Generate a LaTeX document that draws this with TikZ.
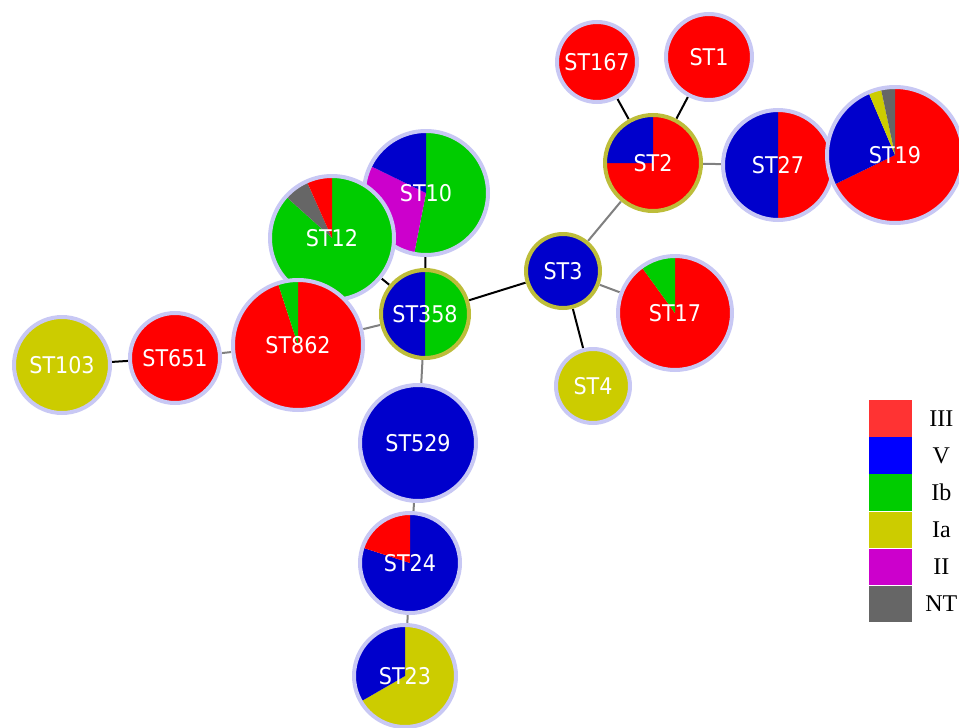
\documentclass[tikz,border=0pt]{standalone}
\usepackage{fontspec}
\setmainfont{Liberation Serif}
\newfontfamily\lblfont{DejaVu Sans Condensed}
\pgfdeclarelayer{edges}
\pgfsetlayers{edges,main}
\definecolor{pred}{HTML}{FF0000}
\definecolor{pblue}{HTML}{0000CC}
\definecolor{pgreen}{HTML}{00CC00}
\definecolor{pyellow}{HTML}{CCCC00}
\definecolor{pmag}{HTML}{CC00CC}
\definecolor{pgray}{HTML}{666666}
\definecolor{lred}{HTML}{FF3333}
\definecolor{lblue}{HTML}{0000FF}
\definecolor{lav}{HTML}{C8C8F4}
\definecolor{oliv}{HTML}{BDBD3A}
\definecolor{egray}{HTML}{808080}
\newcommand\piechart[6]{% #1 name, #2 x, #3 y, #4 radius, #5 border colour, #6 slices a/b/colour
  \foreach \sa/\sb/\sc in {#6} {
    \fill[\sc] (#2,#3) -- +({90-\sa}:#4pt-2pt) arc[start angle={90-\sa}, end angle={90-\sb}, radius=#4pt-2pt] -- cycle;
  }
  \draw[#5, line width=4pt] (#2,#3) circle[radius=#4pt-2pt];
  \node[stnode, minimum size=2*#4pt] (#1) at (#2,#3) {#1};
}
\tikzset{
  stnode/.style={circle, inner sep=0pt, text=white, font=\lblfont\fontsize{23}{25}\selectfont},
  blackedge/.style={draw=black, line width=2pt},
  grayedge/.style={draw=egray, line width=2pt},
  legbox/.style={minimum width=43pt, minimum height=36.7pt, inner sep=0pt, anchor=north west},
  legtext/.style={font=\fontsize{24}{26}\selectfont, text=black, inner sep=0pt}
}
\begin{document}
\begin{tikzpicture}[x=1pt, y=-1pt]
\useasboundingbox (0,0) rectangle (959,728);
\piechart{ST167}{597}{62}{42}{lav}{0/360/pred}
\piechart{ST1}{709}{57}{45}{lav}{0/360/pred}
\piechart{ST2}{653}{163}{50}{oliv}{0/270/pred, 270/360/pblue}
\piechart{ST27}{778}{165}{57}{lav}{0/180/pred, 180/360/pblue}
\piechart{ST19}{895}{155}{70}{lav}{0/244/pred, 244/337/pblue, 337/348/pyellow, 348/360/pgray}
\piechart{ST10}{426}{193}{64}{lav}{0/191/pgreen, 191/296/pmag, 296/360/pblue}
\piechart{ST12}{332}{238}{64}{lav}{0/312/pgreen, 312/336/pgray, 336/360/pred}
\piechart{ST862}{298}{345}{67}{lav}{0/342/pred, 342/360/pgreen}
\piechart{ST358}{425}{314}{46}{oliv}{0/180/pgreen, 180/360/pblue}
\piechart{ST3}{563}{271}{39}{oliv}{0/360/pblue}
\piechart{ST17}{675}{313}{59}{lav}{0/324/pred, 324/360/pgreen}
\piechart{ST4}{593}{386}{39}{lav}{0/360/pyellow}
\piechart{ST103}{62}{365}{50}{lav}{0/360/pyellow}
\piechart{ST651}{175}{358}{47}{lav}{0/360/pred}
\piechart{ST529}{418}{443}{60}{lav}{0/360/pblue}
\piechart{ST24}{410}{563}{52}{lav}{0/288/pblue, 288/360/pred}
\piechart{ST23}{405}{676}{53}{lav}{0/240/pyellow, 240/360/pblue}
\begin{pgfonlayer}{edges}
\draw[blackedge] (ST167) -- (ST2);
\draw[blackedge] (ST1) -- (ST2);
\draw[grayedge] (ST2) -- (ST27);
\draw[grayedge] (ST2) -- (ST3);
\draw[blackedge] (ST3) -- (ST358);
\draw[grayedge] (ST3) -- (ST17);
\draw[blackedge] (ST3) -- (ST4);
\draw[blackedge] (ST358) -- (ST10);
\draw[blackedge] (ST358) -- (ST12);
\draw[grayedge] (ST358) -- (ST862);
\draw[grayedge] (ST358) -- (ST529);
\draw[grayedge] (ST862) -- (ST651);
\draw[blackedge] (ST651) -- (ST103);
\draw[grayedge] (ST529) -- (ST24);
\draw[grayedge] (ST24) -- (ST23);
\end{pgfonlayer}
% legend
\node[legbox, fill=lred] (b1) at (869,400) {};
\node[legbox, fill=lblue] (b2) at (b1.south west) {};
\node[legbox, fill=pgreen] (b3) at (b2.south west) {};
\node[legbox, fill=pyellow] (b4) at (b3.south west) {};
\node[legbox, fill=pmag] (b5) at (b4.south west) {};
\node[legbox, fill=pgray] (b6) at (b5.south west) {};
\node[legtext] (t1) at ([xshift=29pt]b1.east) {III};
\node[legtext] (t2) at ([xshift=29pt]b2.east) {V};
\node[legtext] (t3) at ([xshift=29pt]b3.east) {Ib};
\node[legtext] (t4) at ([xshift=29pt]b4.east) {Ia};
\node[legtext] (t5) at ([xshift=29pt]b5.east) {II};
\node[legtext] (t6) at ([xshift=29pt]b6.east) {NT};
\end{tikzpicture}
\end{document}
